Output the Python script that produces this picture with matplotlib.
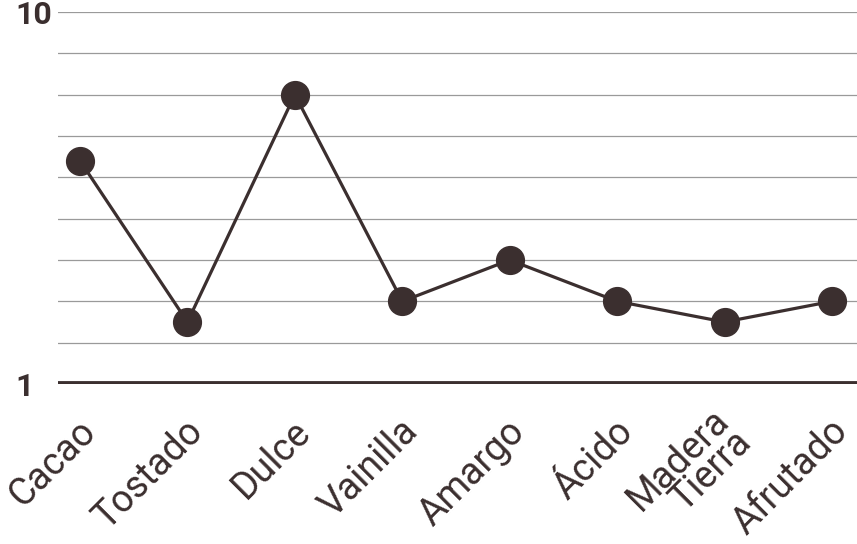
import numpy as np
import matplotlib.pyplot as plt
import matplotlib.transforms as mtransforms

categories = ["Cacao", "Tostado", "Dulce", "Vainilla", "Amargo", "Ácido",
              "Madera\nTierra", "Afrutado"]
values = [6.4, 2.5, 8, 3, 4, 3, 2.5, 3]

dark = "#3b2f2f"

fig = plt.figure(figsize=(8.57, 5.44), dpi=100)
ax = fig.add_axes([58/857, 160/544, 799/857, 372/544])

x = np.arange(len(categories))

# grid lines
for v in range(2, 11):
    ax.axhline(v, color="#9a9a9a", lw=0.9, zorder=1)
ax.axhline(1, color=dark, lw=4.2, zorder=2)

ax.plot(x, values, color=dark, lw=2.3, marker="o", markersize=20,
        zorder=3, clip_on=False)

ax.set_xlim(-0.205, 7.233)
ax.set_ylim(1, 10)

for s in ax.spines.values():
    s.set_visible(False)

ax.set_yticks([1, 10])
ax.set_yticklabels(["1", "10"], fontsize=23, fontweight="bold",
                   fontfamily="Roboto", color=dark, ha="left")
ax.tick_params(axis="y", length=0, pad=31)

ax.set_xticks(x)
ax.set_xticklabels(categories, rotation=45, ha="right", va="center",
                   rotation_mode="anchor", fontsize=27, fontfamily="Roboto",
                   color=dark, linespacing=0.8)
ax.tick_params(axis="x", length=0, pad=30)
offset = mtransforms.ScaledTranslation(10/100, 0, fig.dpi_scale_trans)
for lab in ax.get_xticklabels():
    lab.set_transform(lab.get_transform() + offset)

plt.savefig("out.png", dpi=100)
